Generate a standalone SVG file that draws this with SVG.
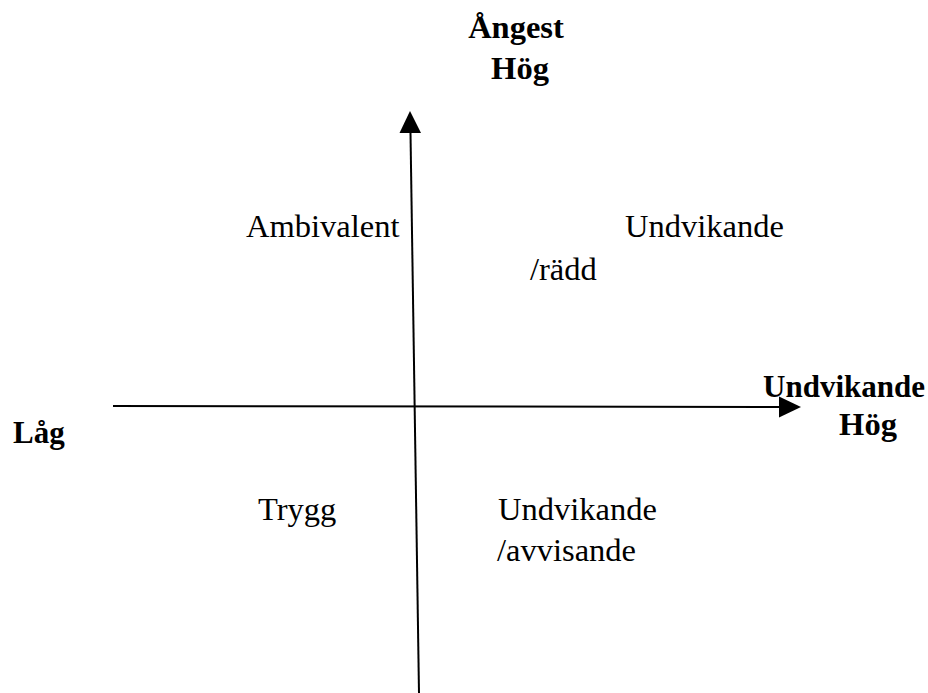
<svg xmlns="http://www.w3.org/2000/svg" width="928" height="693" viewBox="0 0 928 693">
<style>
text{font-family:"Liberation Serif","Times New Roman",serif;font-size:32.5px;fill:#000}
.b{font-weight:bold}
.ax{stroke:#000;stroke-width:2;fill:none}
</style>
<rect width="928" height="693" fill="#fff"/>
<g id="connectors">
<line class="ax" x1="419" y1="693" x2="410.5" y2="133"/>
<path d="M410,111 L399.5,133 L421,133 Z" fill="#000"/>
<line class="ax" x1="113" y1="406" x2="780" y2="407"/>
<path d="M801,407 L779,396.5 L779,417.5 Z" fill="#000"/>
</g>
<g id="axis-y-label"><text class="b" x="516" y="38" text-anchor="middle">Ångest</text><text class="b" x="520" y="79" text-anchor="middle">Hög</text></g>
<g id="axis-x-label"><text class="b" x="844" y="397" text-anchor="middle" style="font-size:31px">Undvikande</text><text class="b" x="868" y="435" text-anchor="middle">Hög</text></g>
<g id="axis-low"><text class="b" x="13" y="443" style="font-size:31px">Låg</text></g>
<g id="ambivalent"><text x="246" y="237">Ambivalent</text></g>
<g id="undvikande-radd"><text x="625" y="237">Undvikande</text><text x="530" y="280">/rädd</text></g>
<g id="trygg"><text x="258" y="520">Trygg</text></g>
<g id="undvikande-avvisande"><text x="498" y="520">Undvikande</text><text x="497" y="561">/avvisande</text></g>
</svg>
